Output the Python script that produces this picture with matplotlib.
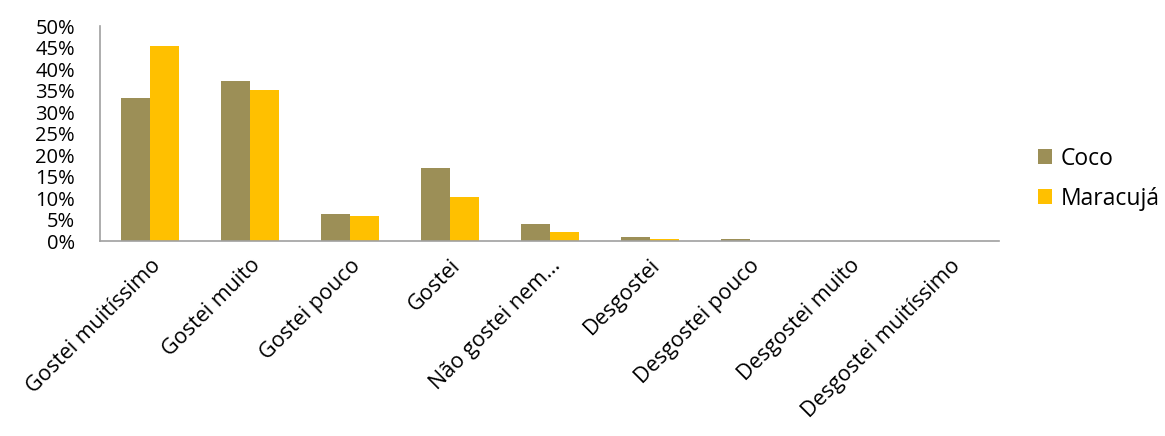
import matplotlib
matplotlib.use("Agg")
import matplotlib.pyplot as plt
from matplotlib.ticker import PercentFormatter
import numpy as np

categories = ["Gostei muitíssimo", "Gostei muito", "Gostei pouco", "Gostei",
              "Não gostei nem...", "Desgostei", "Desgostei pouco",
              "Desgostei muito", "Desgostei muitíssimo"]
coco = [33.2, 37.3, 6.3, 17.1, 3.9, 0.9, 0.4, 0.0, 0.0]
maracuja = [45.4, 35.2, 5.8, 10.2, 2.1, 0.4, 0.0, 0.0, 0.0]
yticks = list(range(0, 55, 5))

plt.rcParams['font.family'] = ['Open Sans', 'DejaVu Sans']

fig = plt.figure(figsize=(11.65, 4.36), dpi=100)
ax = fig.add_axes([0.0858, 0.447, 0.772, 0.493])

x = np.arange(len(categories))
w = 0.29
ax.bar(x - w / 2, coco, w, color="#9C8F57", label="Coco")
ax.bar(x + w / 2, maracuja, w, color="#FFC000", label="Maracujá")

ax.set_xlim(-0.5, len(categories) - 0.5)
ax.set_ylim(0, 50)
ax.set_yticks(yticks)
ax.yaxis.set_major_formatter(PercentFormatter(decimals=0))
ax.tick_params(axis="y", length=0, labelsize=14.5, pad=18)
ax.tick_params(axis="x", length=0, labelsize=15.5, pad=10)
ax.set_xticks(x)
ax.set_xticklabels(categories, rotation=45, ha="right", rotation_mode="anchor")

for s in ["top", "right"]:
    ax.spines[s].set_visible(False)
for s in ["left", "bottom"]:
    ax.spines[s].set_color("#A0A0A0")
    ax.spines[s].set_linewidth(1.2)

ax.legend(loc="center left", bbox_to_anchor=(1.02, 0.29), frameon=False,
          fontsize=16.5, handlelength=0.6, handleheight=0.6, handletextpad=0.4,
          labelspacing=0.7)

fig.savefig("out.png", dpi=100)
